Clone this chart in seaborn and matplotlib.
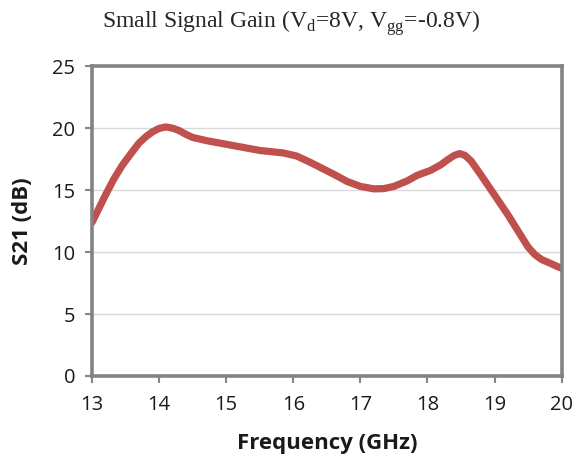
import matplotlib
matplotlib.use("Agg")
import matplotlib.pyplot as plt
import seaborn as sns
import pandas as pd

freq = [13.0, 13.1, 13.2, 13.32, 13.45, 13.58, 13.7, 13.8, 13.9, 14.0, 14.1, 14.2,
        14.3, 14.4, 14.5, 14.7, 14.95, 15.25, 15.5, 15.85, 16.05, 16.25, 16.45,
        16.65, 16.8, 17.0, 17.2, 17.35, 17.5, 17.7, 17.85, 18.05, 18.2, 18.3,
        18.4, 18.48, 18.56, 18.65, 18.8, 18.95, 19.1, 19.2, 19.35, 19.5, 19.6, 19.7,
        19.85, 19.95, 20.0]
s21 = [12.4, 13.5, 14.6, 15.85, 17.0, 17.95, 18.8, 19.3, 19.7, 19.98, 20.1, 20.0,
       19.8, 19.5, 19.25, 19.0, 18.75, 18.45, 18.2, 18.0, 17.75, 17.25, 16.7,
       16.15, 15.7, 15.3, 15.1, 15.12, 15.3, 15.75, 16.2, 16.6, 17.05, 17.45,
       17.8, 17.95, 17.8, 17.35, 16.2, 15.0, 13.8, 13.0, 11.7, 10.4, 9.8, 9.4,
       9.05, 8.8, 8.7]
xticks = [13, 14, 15, 16, 17, 18, 19, 20]
yticks = [0, 5, 10, 15, 20, 25]

df = pd.DataFrame({"freq": freq, "s21": s21})

sns.set_theme(style="white")
plt.rcParams['font.family'] = ['Open Sans', 'DejaVu Sans']
plt.rcParams['mathtext.fontset'] = 'custom'
plt.rcParams['mathtext.rm'] = 'Liberation Serif'

fig = plt.figure(figsize=(5.79, 4.63), dpi=100)
ax = fig.add_axes([0.159, 0.188, 0.811, 0.669])

for y in yticks[1:-1]:
    ax.axhline(y, color='#d9d9d9', lw=1.0, zorder=0)

sns.lineplot(data=df, x="freq", y="s21", ax=ax, color='#C0504D', lw=5.2,
             solid_capstyle='round', solid_joinstyle='round', sort=False)

ax.set_xlim(13, 20)
ax.set_ylim(0, 25)
ax.set_xticks(xticks)
ax.set_yticks(yticks)
ax.tick_params(axis='both', direction='out', length=5, width=1.5, color='#868686',
               labelsize=14.5, labelcolor='#1a1a1a', left=True, bottom=True)
ax.tick_params(axis='x', pad=9)
ax.tick_params(axis='y', pad=7)
for s in ax.spines.values():
    s.set_color('#838383')
    s.set_linewidth(2.6)
    s.set_visible(True)

ax.set_xlabel('Frequency (GHz)', fontsize=16, fontweight='bold', labelpad=13,
              color='#1a1a1a')
ax.set_ylabel('S21 (dB)', fontsize=16, fontweight='bold', labelpad=14,
              color='#1a1a1a')

fig.text(0.503, 0.950, r'Small Signal Gain (V$_{\mathrm{d}}$=8V, V$_{\mathrm{gg}}$=-0.8V)',
         family='Liberation Serif', fontsize=17, ha='center', va='center')

fig.savefig('out.png', dpi=100)
